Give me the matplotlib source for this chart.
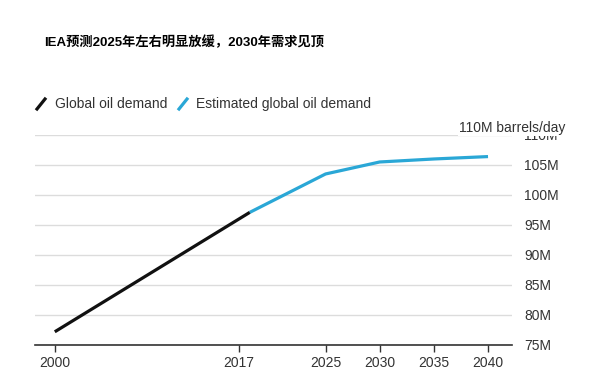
import matplotlib.pyplot as plt
from matplotlib.lines import Line2D

plt.rcParams['font.family'] = ['Liberation Sans', 'Noto Sans CJK SC', 'DejaVu Sans']

title = 'IEA预测2025年左右明显放缓，2030年需求见顶'

hist_years = [2000, 2018]
hist_demand = [77.2, 97.1]

est_years = [2018, 2025, 2030, 2035, 2040]
est_demand = [97.1, 103.5, 105.5, 106.0, 106.4]

x_ticks = [2000, 2017, 2025, 2030, 2035, 2040]
y_ticks = [75, 80, 85, 90, 95, 100, 105, 110]
y_labels = ['75M', '80M', '85M', '90M', '95M', '100M', '105M', '110M']

BLACK = '#111111'
BLUE = '#2aa7d6'
GRID = '#dcdcdc'
TEXT = '#333333'

fig = plt.figure(figsize=(5.89, 3.84), dpi=100)
ax = fig.add_axes([0.059, 0.1016, 0.81, 0.5469])

ax.plot(est_years, est_demand, color=BLUE, lw=2.3, solid_capstyle='butt', zorder=3)
ax.plot(hist_years, hist_demand, color=BLACK, lw=2.3, solid_capstyle='butt', zorder=4)

ax.set_xlim(1998.15, 2042.2)
ax.set_ylim(75, 110)
ax.set_xticks(x_ticks)
ax.set_xticklabels([str(y) for y in x_ticks])
ax.set_yticks(y_ticks)
ax.set_yticklabels(y_labels)
ax.yaxis.tick_right()
ax.tick_params(axis='y', length=0, pad=9, labelsize=10, labelcolor=TEXT)
ax.tick_params(axis='x', length=5, width=1, color=TEXT, pad=3, labelsize=10, labelcolor=TEXT)
for lab in ax.get_yticklabels():
    lab.set_horizontalalignment('left')

ax.grid(axis='y', color=GRID, lw=1)
ax.set_axisbelow(True)
for side in ['top', 'left', 'right']:
    ax.spines[side].set_visible(False)
ax.spines['bottom'].set_color(TEXT)
ax.spines['bottom'].set_linewidth(1.2)
ax.spines['bottom'].set_zorder(5)

# unit note sits over the top tick label, as in the source
fig.text(0.96, 1 - 128 / 384, '110M barrels/day', ha='right', va='center',
         fontsize=10, color=TEXT,
         bbox=dict(facecolor='white', edgecolor='none', pad=0.5))

fig.text(44 / 589, 1 - 42 / 384, title, ha='left', va='center',
         fontsize=9.5, fontweight='bold', color='black')

# legend
y_leg = 1 - 104 / 384
fig.add_artist(Line2D([37 / 589, 45 / 589], [y_leg - 0.013, y_leg + 0.013],
                      transform=fig.transFigure, color=BLACK, lw=2.3))
fig.text(55 / 589, y_leg, 'Global oil demand', ha='left', va='center',
         fontsize=10, color=TEXT)
fig.add_artist(Line2D([179 / 589, 187 / 589], [y_leg - 0.013, y_leg + 0.013],
                      transform=fig.transFigure, color=BLUE, lw=2.3))
fig.text(196 / 589, y_leg, 'Estimated global oil demand', ha='left', va='center',
         fontsize=10, color=TEXT)

fig.savefig('out.png', dpi=100, facecolor='white')
